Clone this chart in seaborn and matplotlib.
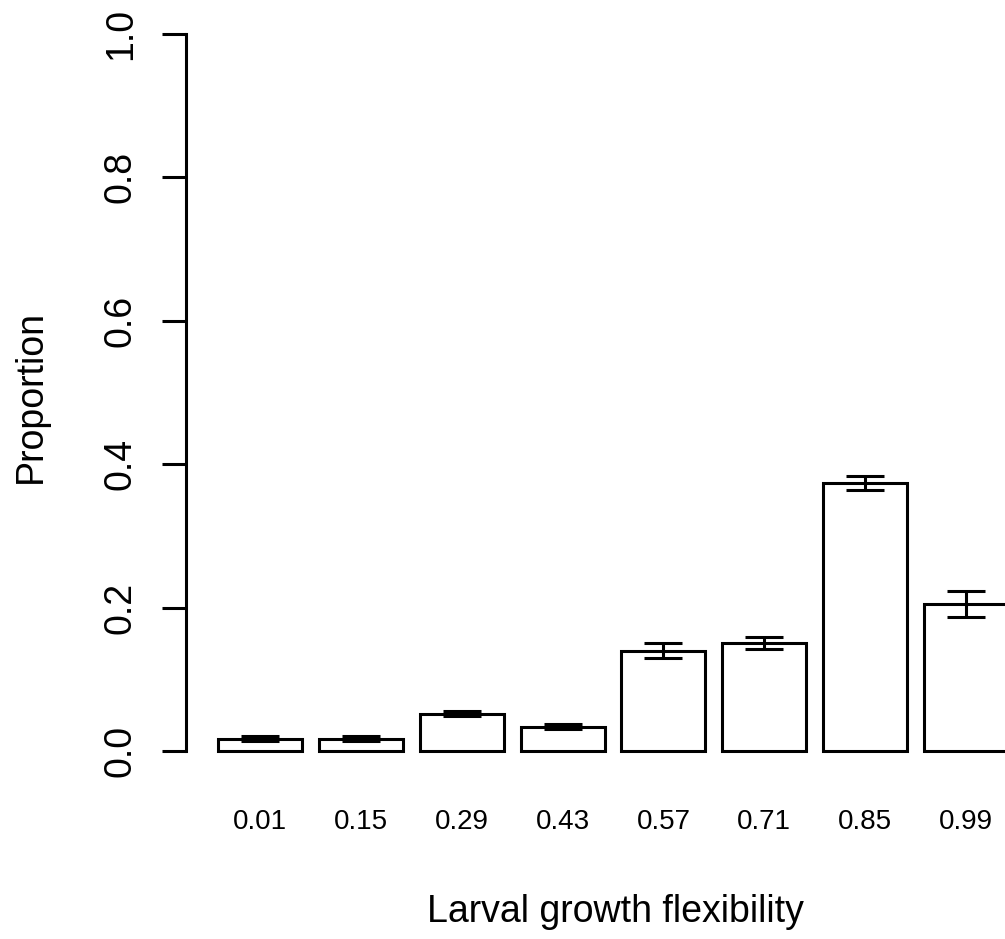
import matplotlib
matplotlib.use("Agg")
import matplotlib.pyplot as plt
import seaborn as sns
import pandas as pd
import numpy as np

# Data
flexibility = ["0.01", "0.15", "0.29", "0.43", "0.57", "0.71", "0.85", "0.99"]
proportion = [0.017, 0.017, 0.052, 0.034, 0.140, 0.151, 0.374, 0.205]
std_error = [0.0035, 0.0035, 0.0035, 0.004, 0.0105, 0.0085, 0.0095, 0.018]
y_ticks = [0.0, 0.2, 0.4, 0.6, 0.8, 1.0]

sns.set_style("white")
plt.rcParams["font.family"] = ["Liberation Sans", "DejaVu Sans"]

df = pd.DataFrame({"flex": flexibility, "prop": proportion})

W, H, DPI = 1005, 939, 100
fig = plt.figure(figsize=(W / DPI, H / DPI), dpi=DPI)
# plot region runs past the right edge of the canvas
left_px, right_px, top_px, bottom_px = 185.5, 1046, 34, 751
ax = fig.add_axes([left_px / W, (H - bottom_px) / H,
                   (right_px - left_px) / W, (bottom_px - top_px) / H])

sns.barplot(data=df, x="flex", y="prop", ax=ax, color="white",
            edgecolor="black", linewidth=2.2, width=0.833, errorbar=None)
for p in ax.patches:
    p.set_facecolor("white")
    p.set_clip_on(False)

ax.errorbar(np.arange(len(proportion)), proportion, yerr=std_error,
            fmt="none", ecolor="black", elinewidth=2.2, capsize=14,
            capthick=2.2, clip_on=False)

ax.set_xlim(-0.739, 7.793)
ax.set_ylim(0, 1)
ax.set_yticks(y_ticks)
ax.set_yticklabels([f"{v:.1f}" for v in y_ticks], rotation=90, va="center",
                   fontsize=27)
ax.tick_params(axis="y", left=True, length=17.5, width=2.2, pad=16,
               colors="black")
ax.tick_params(axis="x", bottom=False, length=0, pad=42, labelsize=20,
               colors="black")

for s in ["top", "right", "bottom"]:
    ax.spines[s].set_visible(False)
ax.spines["left"].set_linewidth(2.2)
ax.spines["left"].set_color("black")
ax.spines["left"].set_capstyle("projecting")

ax.set_xlabel("Larval growth flexibility", fontsize=27, color="black")
ax.set_ylabel("Proportion", fontsize=27, color="black")
ax.xaxis.set_label_coords(0.5, -0.199)
ax.yaxis.set_label_coords(-0.1586, 0.494)

fig.savefig("out.png", dpi=DPI, facecolor="white")
